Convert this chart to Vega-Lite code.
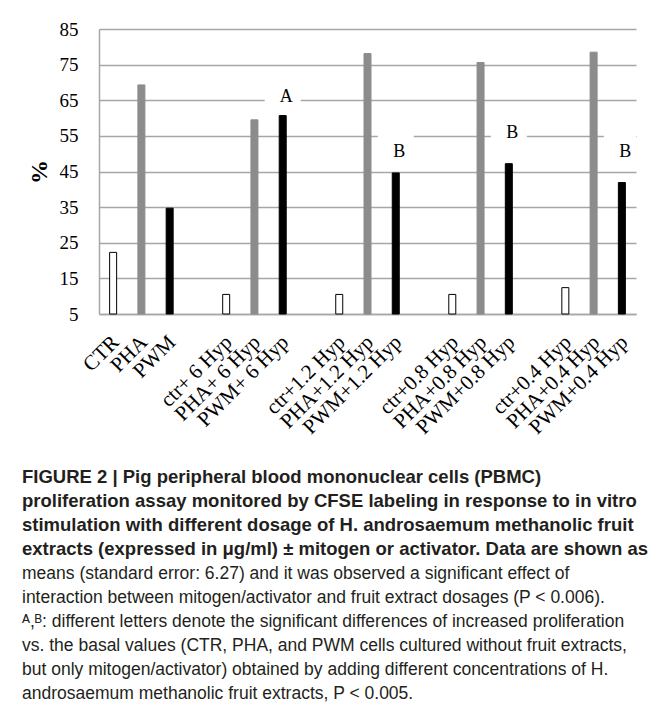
{
  "$schema": "https://vega.github.io/schema/vega-lite/v6.json",
  "width": 537,
  "height": 285,
  "autosize": "none",
  "padding": {"left": 99, "top": 29, "right": 18, "bottom": 402},
  "background": "white",
  "config": {"view": {"stroke": null}},
  "datasets": {
    "bars": [
      {"cat": "CTR", "grp": "ctr", "v": 22.3},
      {"cat": "PHA", "grp": "PHA", "v": 69.3},
      {"cat": "PWM", "grp": "PWM", "v": 34.7},
      {"cat": "ctr+ 6 Hyp", "grp": "ctr", "v": 10.5},
      {"cat": "PHA+ 6 Hyp", "grp": "PHA", "v": 59.5},
      {"cat": "PWM+ 6 Hyp", "grp": "PWM", "v": 60.7},
      {"cat": "ctr+1.2 Hyp", "grp": "ctr", "v": 10.5},
      {"cat": "PHA+1.2 Hyp", "grp": "PHA", "v": 78.1},
      {"cat": "PWM+1.2 Hyp", "grp": "PWM", "v": 44.6},
      {"cat": "ctr+0.8 Hyp", "grp": "ctr", "v": 10.5},
      {"cat": "PHA+0.8 Hyp", "grp": "PHA", "v": 75.6},
      {"cat": "PWM+0.8 Hyp", "grp": "PWM", "v": 47.2},
      {"cat": "ctr+0.4 Hyp", "grp": "ctr", "v": 12.4},
      {"cat": "PHA+0.4 Hyp", "grp": "PHA", "v": 78.5},
      {"cat": "PWM+0.4 Hyp", "grp": "PWM", "v": 41.9}
    ],
    "notes": [
      {"cat": "PWM+ 6 Hyp", "label": "A", "ty": 65.9, "lo": 63.5, "hi": 66.5},
      {"cat": "PWM+1.2 Hyp", "label": "B", "ty": 50.6, "lo": 53.5, "hi": 56.5},
      {"cat": "PWM+0.8 Hyp", "label": "B", "ty": 55.8, "lo": 53.5, "hi": 56.5},
      {"cat": "PWM+0.4 Hyp", "label": "B", "ty": 50.5, "lo": 53.5, "hi": 56.5}
    ]
  },
  "encoding": {
    "x": {
      "field": "cat",
      "type": "nominal",
      "sort": null,
      "scale": {
        "type": "band",
        "paddingInner": 0,
        "paddingOuter": 0,
        "domain": ["CTR", "PHA", "PWM", " ", "ctr+ 6 Hyp", "PHA+ 6 Hyp", "PWM+ 6 Hyp", "  ", "ctr+1.2 Hyp", "PHA+1.2 Hyp", "PWM+1.2 Hyp", "   ", "ctr+0.8 Hyp", "PHA+0.8 Hyp", "PWM+0.8 Hyp", "    ", "ctr+0.4 Hyp", "PHA+0.4 Hyp", "PWM+0.4 Hyp"]
      },
      "axis": {
        "title": null,
        "ticks": false,
        "grid": false,
        "domainColor": "#a6a6a6",
        "domainWidth": 1.5,
        "labelAngle": -45,
        "labelAlign": "right",
        "labelBaseline": "top",
        "labelFont": "Liberation Serif",
        "labelFontSize": 21,
        "labelColor": "#000000",
        "labelPadding": 17,
        "labelOffset": -5,
        "labelOverlap": false
      }
    }
  },
  "layer": [
    {
      "data": {"name": "notes"},
      "mark": {"type": "bar", "width": 36, "color": "white", "clip": true},
      "encoding": {
        "y": {
          "field": "lo",
          "type": "quantitative",
          "scale": {"domain": [5, 85], "nice": false, "zero": false},
          "axis": {
            "title": "%",
            "values": [5, 15, 25, 35, 45, 55, 65, 75, 85],
            "tickCount": 20,
            "labelOverlap": false,
            "grid": true,
            "gridColor": "#a6a6a6",
            "gridWidth": 1.5,
            "domainColor": "#a6a6a6",
            "domainWidth": 1.5,
            "ticks": false,
            "labelFont": "Liberation Serif",
            "labelFontSize": 19,
            "labelColor": "#000000",
            "labelPadding": 21,
            "titleFont": "Liberation Serif",
            "titleFontSize": 24,
            "titleFontWeight": "bold",
            "titleColor": "#000000",
            "titlePadding": 8
          }
        },
        "y2": {"field": "hi"}
      }
    },
    {
      "data": {"name": "bars"},
      "mark": {"type": "bar", "width": 7, "strokeWidth": 1},
      "encoding": {
        "y": {"field": "v", "type": "quantitative"},
        "y2": {"datum": 5},
        "color": {
          "field": "grp",
          "type": "nominal",
          "scale": {"domain": ["ctr", "PHA", "PWM"], "range": ["#ffffff", "#8c8c8c", "#000000"]},
          "legend": null
        },
        "stroke": {
          "field": "grp",
          "type": "nominal",
          "scale": {"domain": ["ctr", "PHA", "PWM"], "range": ["#000000", "#8c8c8c", "#000000"]},
          "legend": null
        }
      }
    },
    {
      "data": {"name": "notes"},
      "mark": {"type": "text", "font": "Liberation Serif", "fontSize": 18, "color": "#000000", "dx": 3.5, "baseline": "middle"},
      "encoding": {
        "y": {"field": "ty", "type": "quantitative"},
        "text": {"field": "label"}
      }
    }
  ],
  "title": {
    "text": [
      "FIGURE 2 | Pig peripheral blood mononuclear cells (PBMC)",
      "proliferation assay monitored by CFSE labeling in response to in vitro",
      "stimulation with different dosage of H. androsaemum methanolic fruit",
      "extracts (expressed in μg/ml) ± mitogen or activator. Data are shown as"
    ],
    "subtitle": [
      "means (standard error: 6.27) and it was observed a significant effect of",
      "interaction between mitogen/activator and fruit extract dosages (P < 0.006).",
      "ᴬ,ᴮ: different letters denote the significant differences of increased proliferation",
      "vs. the basal values (CTR, PHA, and PWM cells cultured without fruit extracts,",
      "but only mitogen/activator) obtained by adding different concentrations of H.",
      "androsaemum methanolic fruit extracts, P < 0.005."
    ],
    "orient": "bottom",
    "anchor": "start",
    "frame": "group",
    "dx": -77,
    "offset": 30,
    "font": "Liberation Sans",
    "fontSize": 18.5,
    "fontWeight": "bold",
    "color": "#231f20",
    "lineHeight": 24,
    "subtitleFont": "Liberation Sans",
    "subtitleFontSize": 17.5,
    "subtitleColor": "#231f20",
    "subtitleLineHeight": 24,
    "subtitlePadding": 7
  }
}
